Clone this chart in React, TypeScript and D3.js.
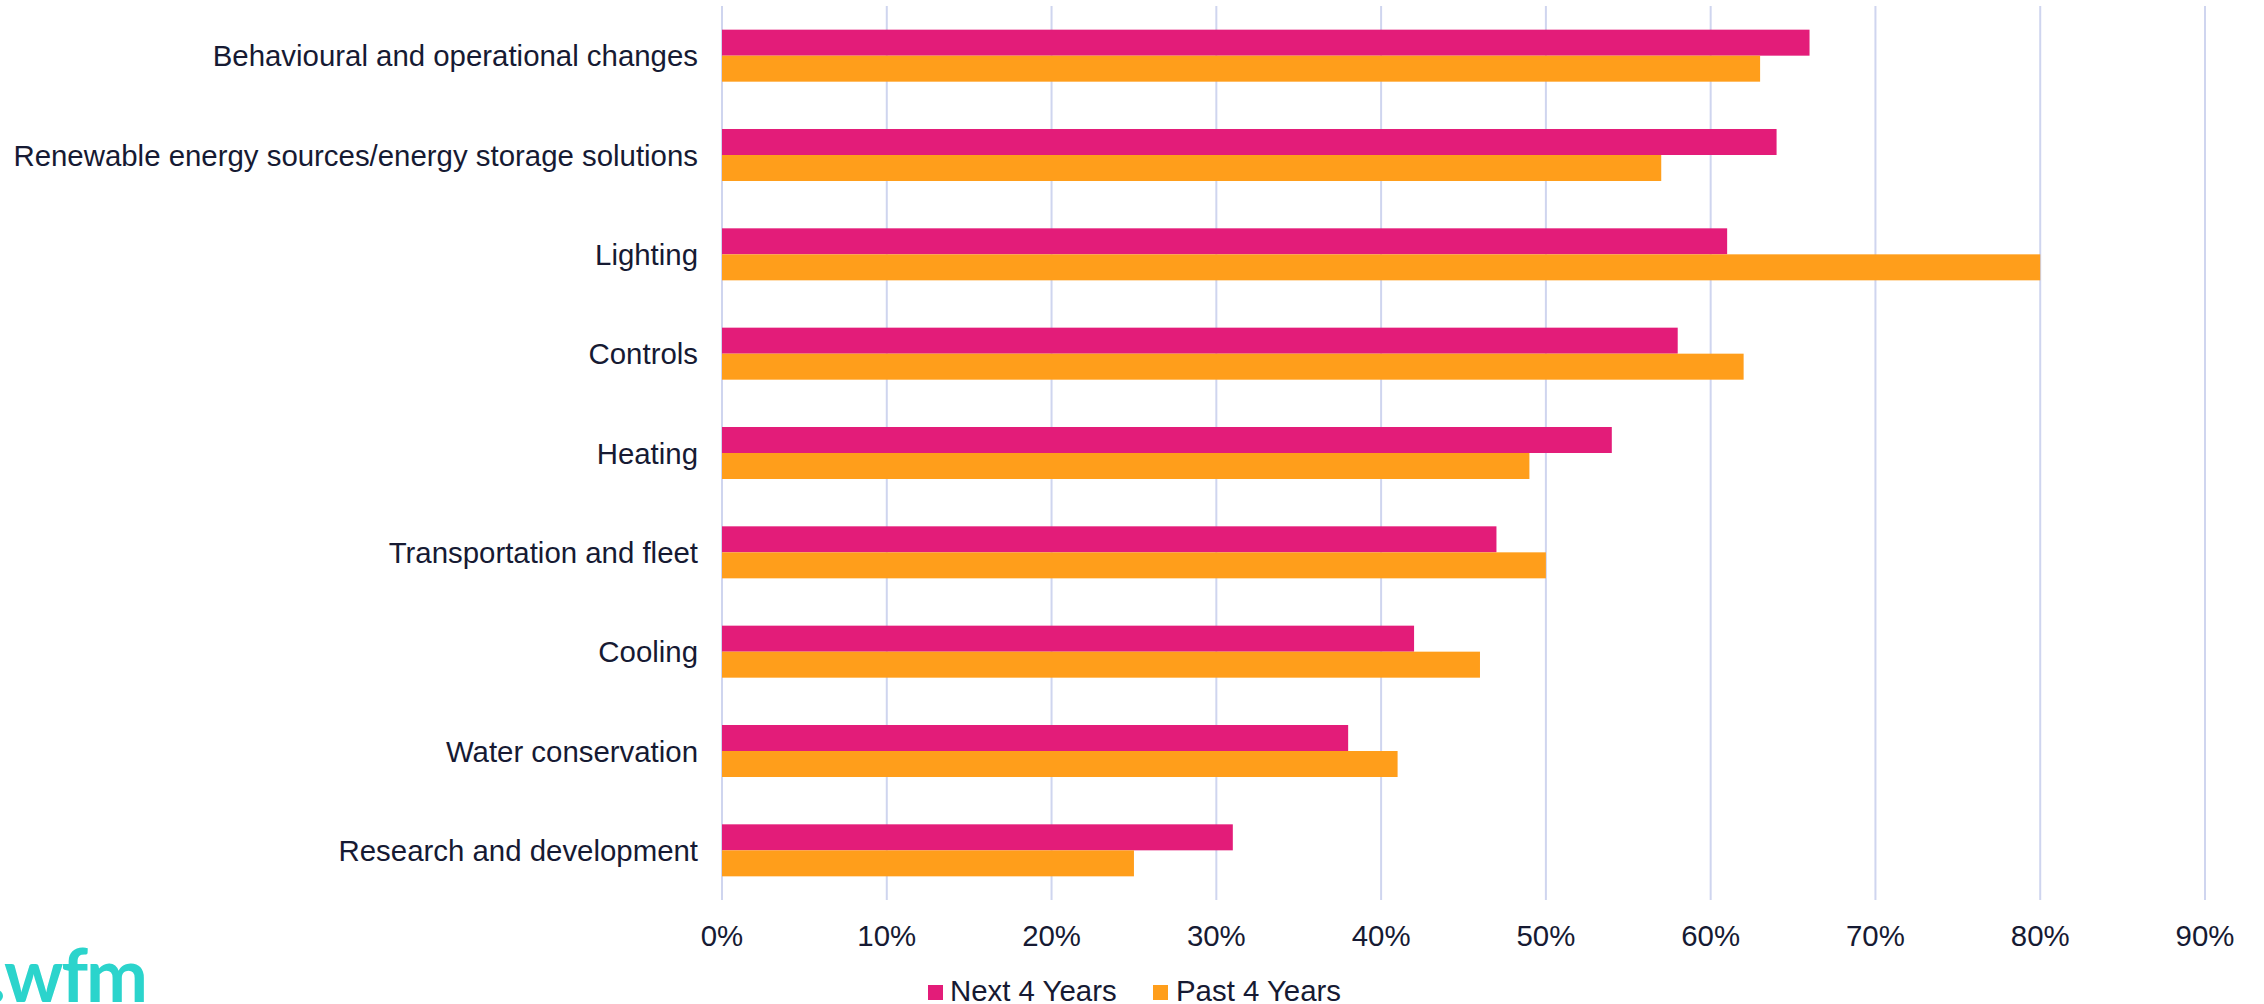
import React from "react";
import * as d3 from "d3";

const categories = [
  "Behavioural and operational changes",
  "Renewable energy sources/energy storage solutions",
  "Lighting",
  "Controls",
  "Heating",
  "Transportation and fleet",
  "Cooling",
  "Water conservation",
  "Research and development",
];
const seriesNames = ["Next 4 Years", "Past 4 Years"];
const nextValues = [66, 64, 61, 58, 54, 47, 42, 38, 31];
const pastValues = [63, 57, 80, 62, 49, 50, 46, 41, 25];
const xTicks = [0, 10, 20, 30, 40, 50, 60, 70, 80, 90];
const seriesColors = ["#E31C79", "#FF9E1B"];

const W = 2264;
const H = 1004;
const FONT = "'Liberation Sans', Arial, sans-serif";
const TEXT = "#161a33";
const GRID = "#cfd5ef";
const FS = 29.4;

export default function App() {
  const x = d3.scaleLinear().domain([0, 90]).range([722, 2205]);
  const y = d3.scaleBand<string>().domain(categories).range([6, 900]).padding(0);
  const inner = d3
    .scaleBand<string>()
    .domain(seriesNames)
    .range([0, y.step()])
    .paddingInner(0)
    .paddingOuter(0.91);
  const values = [nextValues, pastValues];

  return (
    <svg
      width={W}
      height={H}
      style={{ position: "absolute", left: 0, top: 0, display: "block", background: "#fff" }}
      fontFamily={FONT}
    >
      <rect x={0} y={0} width={W} height={H} fill="#fff" />
      {xTicks.map((t) => (
        <line key={t} x1={x(t)} x2={x(t)} y1={6} y2={900} stroke={GRID} strokeWidth={2} />
      ))}
      {categories.map((c, i) => (
        <g key={c}>
          {seriesNames.map((s, j) => (
            <rect
              key={s}
              x={x(0)}
              y={(y(c) as number) + (inner(s) as number)}
              width={x(values[j][i]) - x(0)}
              height={inner.bandwidth()}
              fill={seriesColors[j]}
            />
          ))}
          <text
            x={698}
            y={(y(c) as number) + y.step() / 2}
            textAnchor="end"
            dominantBaseline="central"
            fontSize={FS}
            fill={TEXT}
          >
            {c}
          </text>
        </g>
      ))}
      {xTicks.map((t) => (
        <text key={"l" + t} x={x(t)} y={946} textAnchor="middle" fontSize={FS} fill={TEXT}>
          {t + "%"}
        </text>
      ))}
      {/* legend */}
      <rect x={928} y={985} width={15} height={15} fill={seriesColors[0]} />
      <text x={950} y={1001} fontSize={FS} fill={TEXT}>
        {seriesNames[0]}
      </text>
      <rect x={1153} y={985} width={15} height={15} fill={seriesColors[1]} />
      <text x={1176} y={1001} fontSize={FS} fill={TEXT}>
        {seriesNames[1]}
      </text>
      {/* logo */}
      <circle cx={-3} cy={996} r={6} fill="#2BD4CC" />
      <text
        x={4}
        y={1002}
        fontSize={74}
        fontWeight={700}
        fontFamily="Lato, 'Open Sans', sans-serif"
        letterSpacing={-2}
        fill="#2BD4CC"
      >
        wfm
      </text>
    </svg>
  );
}
